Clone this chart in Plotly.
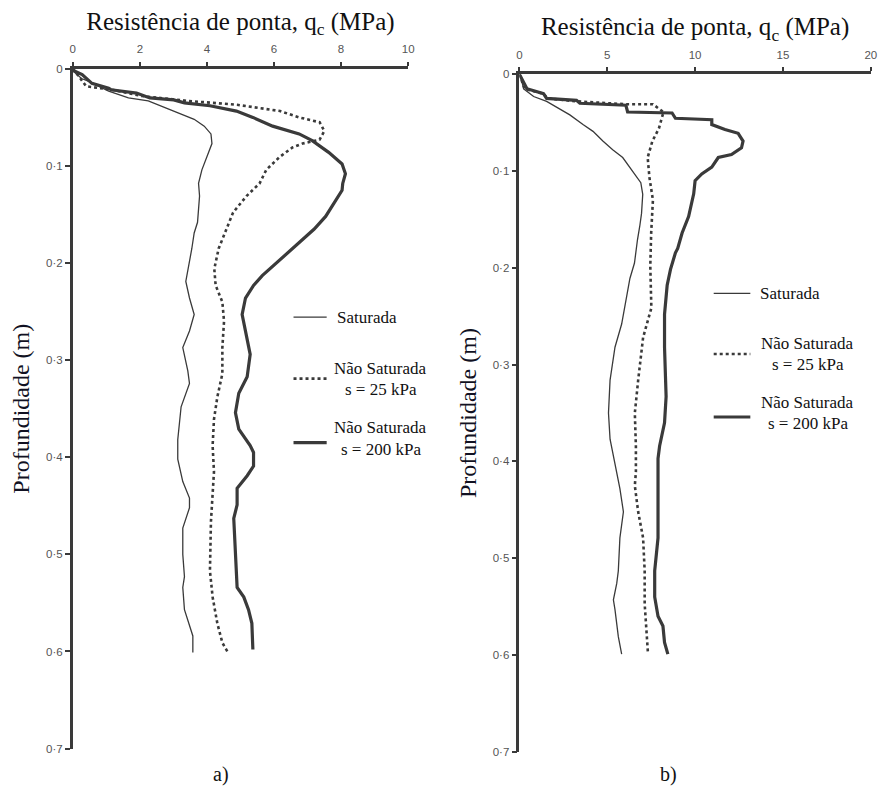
import plotly.graph_objects as go

# ---- (a) q_c profiles: depth (m) and tip resistance (MPa) ----
depth_a_sat = [0.000, 0.003, 0.010, 0.013, 0.023, 0.030, 0.033, 0.040, 0.047, 0.052, 0.059, 0.067,
               0.077, 0.091, 0.104, 0.118, 0.131, 0.158, 0.169, 0.185, 0.199, 0.219, 0.236, 0.253,
               0.270, 0.287, 0.311, 0.324, 0.348, 0.382, 0.402, 0.425, 0.442, 0.452, 0.473, 0.500,
               0.523, 0.534, 0.557, 0.574, 0.584, 0.601]
qc_a_sat = [0.00, 0.03, 0.26, 0.48, 1.07, 1.66, 2.25, 2.74, 3.23, 3.62, 3.92, 4.12,
            4.15, 4.00, 3.85, 3.75, 3.78, 3.72, 3.62, 3.55, 3.48, 3.37, 3.48, 3.62,
            3.48, 3.28, 3.43, 3.48, 3.23, 3.13, 3.13, 3.28, 3.48, 3.48, 3.28, 3.28,
            3.33, 3.28, 3.33, 3.48, 3.58, 3.58]

depth_a_s25 = [0.000, 0.005, 0.018, 0.0215, 0.028, 0.033, 0.037, 0.0435, 0.050, 0.055, 0.064, 0.073,
               0.077, 0.081, 0.091, 0.104, 0.118, 0.131, 0.148, 0.165, 0.185, 0.206, 0.223, 0.240,
               0.260, 0.287, 0.314, 0.338, 0.361, 0.388, 0.415, 0.466, 0.517, 0.544, 0.571, 0.591,
               0.600]
qc_a_s25 = [0.00, 0.12, 0.40, 1.17, 2.05, 3.43, 4.90, 6.18, 6.75, 7.36, 7.50, 7.36,
            6.85, 6.55, 6.16, 5.77, 5.57, 5.18, 4.78, 4.59, 4.35, 4.22, 4.26, 4.46,
            4.51, 4.46, 4.46, 4.31, 4.21, 4.17, 4.21, 4.12, 4.09, 4.17, 4.31, 4.46,
            4.61]

depth_a_s200 = [0.000, 0.002, 0.006, 0.011, 0.015, 0.020, 0.0215, 0.025, 0.030, 0.032, 0.035, 0.038,
                0.0435, 0.050, 0.059, 0.067, 0.074, 0.086, 0.098, 0.108, 0.118, 0.125, 0.138, 0.152,
                0.165, 0.179, 0.192, 0.202, 0.213, 0.223, 0.236, 0.253, 0.270, 0.294, 0.317, 0.334,
                0.354, 0.371, 0.388, 0.395, 0.409, 0.419, 0.432, 0.449, 0.463, 0.500, 0.534, 0.544,
                0.557, 0.571, 0.598]
qc_a_s200 = [0.00, 0.03, 0.28, 0.46, 0.57, 1.07, 1.14, 1.90, 2.30, 3.01, 3.33, 4.09,
             4.88, 5.37, 5.96, 6.75, 7.14, 7.63, 8.03, 8.13, 8.05, 8.03, 7.80, 7.54,
             7.20, 6.75, 6.30, 5.98, 5.65, 5.39, 5.15, 5.05, 5.15, 5.29, 5.20, 4.95,
             4.85, 4.95, 5.29, 5.39, 5.39, 5.20, 4.90, 4.90, 4.80, 4.85, 4.90, 5.10,
             5.24, 5.34, 5.37]

# ---- (b) q_c profiles ----
depth_b_sat = [0.000, 0.0014, 0.015, 0.023, 0.028, 0.034, 0.042, 0.052, 0.059, 0.069, 0.078, 0.086,
               0.100, 0.112, 0.124, 0.144, 0.157, 0.171, 0.195, 0.211, 0.258, 0.282, 0.316, 0.350,
               0.377, 0.404, 0.428, 0.452, 0.479, 0.513, 0.526, 0.543, 0.553, 0.581, 0.599]
qc_b_sat = [0.00, 0.06, 0.24, 0.81, 1.55, 2.12, 2.87, 3.62, 4.19, 4.75, 5.31, 5.88,
            6.44, 6.91, 7.02, 6.95, 6.85, 6.72, 6.55, 6.29, 5.82, 5.44, 5.16, 5.07,
            5.16, 5.44, 5.72, 5.92, 5.72, 5.63, 5.54, 5.35, 5.44, 5.63, 5.82]

depth_b_s25 = [0.000, 0.015, 0.020, 0.025, 0.028, 0.031, 0.031, 0.039, 0.041, 0.056, 0.069, 0.086,
               0.1065, 0.130, 0.164, 0.198, 0.2415, 0.272, 0.316, 0.350, 0.384, 0.411, 0.425, 0.452,
               0.479, 0.513, 0.547, 0.581, 0.599]
qc_b_s25 = [0.00, 0.30, 1.37, 1.60, 3.28, 6.10, 7.60, 8.20, 8.17, 7.94, 7.57, 7.30,
            7.40, 7.60, 7.50, 7.45, 7.51, 7.04, 6.76, 6.57, 6.63, 6.63, 6.57, 6.76,
            7.04, 7.13, 7.13, 7.23, 7.32]

depth_b_s200 = [0.000, 0.015, 0.020, 0.025, 0.027, 0.030, 0.032, 0.039, 0.040, 0.0455, 0.047, 0.052,
                0.057, 0.061, 0.069, 0.076, 0.083, 0.086, 0.096, 0.103, 0.110, 0.1235, 0.147, 0.164,
                0.180, 0.1845, 0.2015, 0.218, 0.248, 0.282, 0.333, 0.360, 0.384, 0.397, 0.445, 0.479,
                0.513, 0.540, 0.560, 0.570, 0.587, 0.599]
qc_b_s200 = [0.00, 0.43, 1.37, 1.55, 3.25, 3.44, 6.06, 6.16, 8.69, 8.88, 10.95, 10.95,
             11.70, 12.45, 12.73, 12.64, 12.07, 11.32, 10.95, 10.38, 10.00, 9.92, 9.63, 9.26,
             9.01, 8.88, 8.60, 8.41, 8.26, 8.26, 8.35, 8.26, 7.98, 7.89, 7.89, 7.89,
             7.70, 7.70, 7.89, 8.17, 8.26, 8.45]

# ---- axes ----
x_ticks_a = [0, 2, 4, 6, 8, 10]
x_ticks_b = [0, 5, 10, 15, 20]
y_ticks = [0, 0.1, 0.2, 0.3, 0.4, 0.5, 0.6, 0.7]
y_tick_text = ["0", "0·1", "0·2", "0·3", "0·4", "0·5", "0·6", "0·7"]

series_names = ["Saturada", "Não Saturada<br>s = 25 kPa", "Não Saturada<br>s = 200 kPa"]
x_title = "Resistência de ponta, q<sub>c</sub> (MPa)"
y_title = "Profundidade (m)"
panel_labels = ["a)", "b)"]

W, H = 886, 794
INK = "#3a3a3a"
SERIF = "Liberation Serif"
SANS = "Liberation Sans"
TXT = "#111111"

styles = [dict(color=INK, width=1.3),
          dict(color=INK, width=2.6, dash="dot"),
          dict(color=INK, width=3.2)]

fig = go.Figure()

panels = [
    ("x", "y", [(qc_a_sat, depth_a_sat), (qc_a_s25, depth_a_s25), (qc_a_s200, depth_a_s200)]),
    ("x2", "y2", [(qc_b_sat, depth_b_sat), (qc_b_s25, depth_b_s25), (qc_b_s200, depth_b_s200)]),
]
for xa, ya, curves in panels:
    for (q, d), st, nm in zip(curves, styles, series_names):
        fig.add_trace(go.Scatter(x=q, y=d, mode="lines", line=st, name=nm,
                                 xaxis=xa, yaxis=ya, showlegend=False, hoverinfo="skip"))


def px_x(p):
    return p / W


def px_y(p):
    return 1 - p / H


def xaxis(domain, rng, ticks):
    return dict(domain=domain, range=rng, side="top", tickvals=ticks,
                showline=True, linecolor=INK, linewidth=3, ticks="outside",
                ticklen=4, tickwidth=1.5, tickcolor=INK, showgrid=False, zeroline=False,
                ticklabelstandoff=4,
                tickfont=dict(family=SANS, size=11.5, color="#555555"),
                title=dict(text=x_title, font=dict(family=SERIF, size=25, color=TXT),
                           standoff=6),
                fixedrange=True)


def yaxis(domain, anchor):
    return dict(domain=domain, range=[0.7, 0], tickvals=y_ticks, ticktext=y_tick_text,
                anchor=anchor, showline=True, linecolor=INK, linewidth=2.5, ticks="outside",
                ticklen=5, tickwidth=1.5, tickcolor=INK, showgrid=False, zeroline=False,
                tickfont=dict(family=SANS, size=11.5, color="#555555"),
                title=dict(text=y_title, font=dict(family=SERIF, size=24, color="#111122"),
                           standoff=10),
                fixedrange=True)


fig.update_layout(
    width=W, height=H, autosize=False,
    margin=dict(l=0, r=0, t=0, b=0),
    paper_bgcolor="white", plot_bgcolor="white",
    showlegend=False,
    xaxis=xaxis([px_x(70.5), px_x(409.3)], [0, 10], x_ticks_a) | dict(anchor="y"),
    yaxis=yaxis([px_y(754), px_y(63.8)], "x"),
    xaxis2=xaxis([px_x(521.7), px_x(876.7)], [0, 20], x_ticks_b) | dict(anchor="y2"),
    yaxis2=yaxis([px_y(757.3), px_y(69.3)], "x2"),
)

# legend blocks: sample line + label, one block per panel
legend_rows = [
    dict(x0=293.5, x1=327, tx=335, cx=381.5, ys=[316, 378.3, 443.3], ty=[316, (368.3, 389.5), (428.3, 450)]),
    dict(x0=718, x1=755, tx=763, cx=813, ys=[291.7, 353.3, 417.3], ty=[291.7, (342.3, 363.5), (402.3, 424)]),
]
LEG_FONT = dict(family=SERIF, size=17, color=TXT)
for blk in legend_rows:
    for i, st in enumerate(styles):
        fig.add_shape(type="line", xref="paper", yref="paper",
                      x0=px_x(blk["x0"]), x1=px_x(blk["x1"]),
                      y0=px_y(blk["ys"][i]), y1=px_y(blk["ys"][i]),
                      line=st)
    fig.add_annotation(x=px_x(blk["tx"]), y=px_y(blk["ty"][0]), xref="paper", yref="paper",
                       text="Saturada", showarrow=False, xanchor="left", yanchor="middle",
                       font=LEG_FONT)
    for i, nm in ((1, "s = 25 kPa"), (2, "s = 200 kPa")):
        y1, y2 = blk["ty"][i]
        fig.add_annotation(x=px_x(blk["cx"]), y=px_y(y1), xref="paper", yref="paper",
                           text="Não Saturada", showarrow=False, xanchor="center", yanchor="middle",
                           font=LEG_FONT)
        fig.add_annotation(x=px_x(blk["cx"]), y=px_y(y2), xref="paper", yref="paper",
                           text=nm, showarrow=False, xanchor="center", yanchor="middle",
                           font=LEG_FONT)

for lbl, cx in zip(panel_labels, [220, 672]):
    fig.add_annotation(x=px_x(cx), y=px_y(780), xref="paper", yref="paper", text=lbl,
                       showarrow=False, xanchor="center", yanchor="middle",
                       font=dict(family=SERIF, size=20, color=TXT))

fig.write_html("out.html")
